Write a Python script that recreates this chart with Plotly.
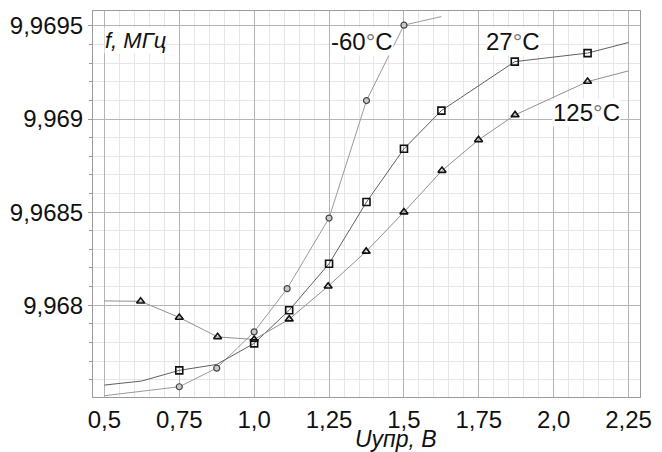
import plotly.graph_objects as go

# ---- data ----
x_m60 = [0.5, 0.75, 0.875, 1.0, 1.11, 1.25, 1.375, 1.5, 1.625]
y_m60 = [9.967514, 9.967562, 9.967662, 9.967857, 9.968089, 9.968468, 9.969099, 9.969504, 9.96955]
mx_m60 = [0.75, 0.875, 1.0, 1.11, 1.25, 1.375, 1.5]
my_m60 = [9.967562, 9.967662, 9.967857, 9.968089, 9.968468, 9.969099, 9.969504]

x_27 = [0.5, 0.625, 0.75, 0.875, 1.0, 1.117, 1.25, 1.375, 1.5, 1.625, 1.87, 2.113, 2.25]
y_27 = [9.967571, 9.967593, 9.96765, 9.967682, 9.967795, 9.967973, 9.968223, 9.968554,
        9.96884, 9.969045, 9.969308, 9.969354, 9.969411]
mx_27 = [0.75, 1.0, 1.117, 1.25, 1.375, 1.5, 1.625, 1.87, 2.113]
my_27 = [9.96765, 9.967795, 9.967973, 9.968223, 9.968554, 9.96884, 9.969045, 9.969308, 9.969354]

x_125 = [0.5, 0.621, 0.75, 0.878, 1.0, 1.117, 1.247, 1.374, 1.5, 1.627, 1.749, 1.871, 2.113, 2.251]
y_125 = [9.968023, 9.968021, 9.967934, 9.96783, 9.967816, 9.967925, 9.968102, 9.968289,
         9.9685, 9.968723, 9.968888, 9.969022, 9.969201, 9.969259]
mx_125 = x_125[1:-1]
my_125 = y_125[1:-1]

x_tickvals = [0.5, 0.75, 1.0, 1.25, 1.5, 1.75, 2.0, 2.25]
x_ticktext = ["0,5", "0,75", "1,0", "1,25", "1,5", "1,75", "2,0", "2,25"]
y_tickvals = [9.968, 9.9685, 9.969, 9.9695]
y_ticktext = ["9,968", "9,9685", "9,969", "9,9695"]

FONT = "Liberation Sans, Arial, sans-serif"

fig = go.Figure()

# lines
fig.add_trace(go.Scatter(x=x_m60, y=y_m60, mode="lines",
                         line=dict(color="#9a9a9a", width=1), hoverinfo="skip"))
fig.add_trace(go.Scatter(x=x_27, y=y_27, mode="lines",
                         line=dict(color="#606060", width=1), hoverinfo="skip"))
fig.add_trace(go.Scatter(x=x_125, y=y_125, mode="lines",
                         line=dict(color="#909090", width=1), hoverinfo="skip"))

# markers
fig.add_trace(go.Scatter(x=mx_27, y=my_27, mode="markers",
                         marker=dict(symbol="square-open", size=7,
                                     color="#111111", line=dict(width=1.6))))
fig.add_trace(go.Scatter(x=mx_125, y=my_125, mode="markers",
                         marker=dict(symbol="triangle-up-open", size=7,
                                     color="#111111", line=dict(width=1.6))))
fig.add_trace(go.Scatter(x=mx_m60, y=my_m60, mode="markers",
                         marker=dict(symbol="circle", size=6, color="#c9c9c9",
                                     line=dict(color="#444444", width=1.2))))

deg = "<span style='color:#777777'>°</span>"
ann_font = dict(family=FONT, size=24, color="#111111")
fig.add_annotation(x=1.36, y=9.969418, text="-60" + deg + "C", showarrow=False,
                   font=ann_font, bgcolor="white", borderpad=0, xanchor="center", yanchor="middle")
fig.add_annotation(x=1.864, y=9.969418, text="27" + deg + "C", showarrow=False,
                   font=ann_font, bgcolor="white", borderpad=0, xanchor="center", yanchor="middle")
fig.add_annotation(x=2.11, y=9.969035, text="125" + deg + "C", showarrow=False,
                   font=ann_font, bgcolor="white", borderpad=0, xanchor="center", yanchor="middle")
fig.add_annotation(x=0.5, y=9.96942, text="<i>f, МГц</i>", showarrow=False,
                   font=dict(family=FONT, size=22, color="#111111"),
                   bgcolor="white", borderpad=0, xanchor="left", yanchor="middle")
fig.add_annotation(xref="paper", yref="paper", x=(398 - 86) / 564, y=-(439 - 397) / 387,
                   text="<i>Uупр, В</i>", showarrow=False,
                   font=dict(family=FONT, size=23, color="#111111"),
                   xanchor="center", yanchor="middle")

fig.update_layout(
    width=662, height=452,
    margin=dict(l=86, r=12, t=10, b=55),
    paper_bgcolor="white", plot_bgcolor="white",
    showlegend=False,
    font=dict(family=FONT, size=24, color="#111111"),
)
fig.update_xaxes(
    range=[0.462, 2.288], tickvals=x_tickvals, ticktext=x_ticktext,
    showgrid=True, gridcolor="#b4b4b4", gridwidth=1,
    showline=True, linecolor="#9a9a9a", linewidth=1, mirror=True,
    ticks="", zeroline=False, ticklabelstandoff=1,
    tickfont=dict(family=FONT, size=24, color="#111111"),
    minor=dict(tick0=0.5, dtick=0.05, showgrid=True, gridcolor="#e6e6e6", gridwidth=1),
)
fig.update_yaxes(
    range=[9.967507, 9.96958], tickvals=y_tickvals, ticktext=y_ticktext,
    showgrid=True, gridcolor="#b4b4b4", gridwidth=1,
    showline=True, linecolor="#9a9a9a", linewidth=1, mirror=True,
    ticks="outside", ticklen=4, tickcolor="#9a9a9a", zeroline=False,
    tickfont=dict(family=FONT, size=24, color="#111111"),
    minor=dict(tick0=9.968, dtick=0.0001, showgrid=True, gridcolor="#e6e6e6",
               gridwidth=1, ticks="outside", ticklen=3, tickcolor="#9a9a9a"),
)

fig.write_html("out.html")
